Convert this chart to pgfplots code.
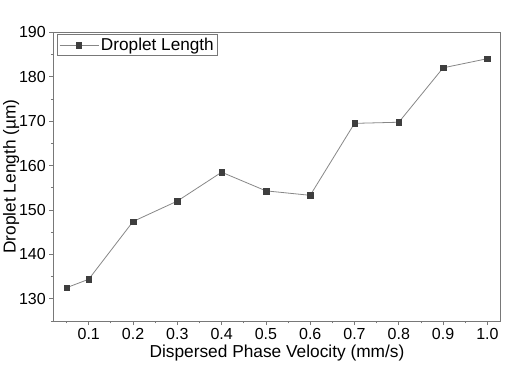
\documentclass[border=0pt]{standalone}
\usepackage{pgfplots}
\pgfplotsset{compat=1.18}
\usepackage{fontspec}
\setmainfont{Liberation Sans}
\definecolor{axgray}{RGB}{120,120,120}
\definecolor{lngray}{RGB}{135,135,135}
\definecolor{mkgray}{RGB}{62,62,62}
\begin{document}
\begin{tikzpicture}
\useasboundingbox (-53.3bp,-45bp) rectangle (462.7bp,321bp);
\begin{axis}[
  at={(0,0)}, anchor=south west,
  scale only axis, width=447.4bp, height=288.7bp,
  xmin=0.02, xmax=1.03, ymin=125, ymax=190,
  xtick={0.1,0.2,0.3,0.4,0.5,0.6,0.7,0.8,0.9,1.0},
  minor xtick={0.05,0.15,0.25,0.35,0.45,0.55,0.65,0.75,0.85,0.95},
  ytick={130,140,150,160,170,180,190},
  minor ytick={125,135,145,155,165,175,185},
  xtick pos=bottom, ytick pos=left,
  tick align=outside,
  major tick length=4bp, minor tick length=2.5bp,
  every tick/.style={axgray, line width=0.8pt},
  axis line style={axgray, line width=0.9pt},
  /pgf/number format/assume math mode=true,
  xticklabel style={/pgf/number format/.cd, fixed, fixed zerofill, precision=1},
  yticklabel style={/pgf/number format/.cd, fixed, precision=0},
  ticklabel style={font=\fontsize{16bp}{19bp}\selectfont},
  xlabel={Dispersed Phase Velocity (mm/s)},
  ylabel={Droplet Length (µm)},
  label style={font=\fontsize{17.3bp}{20bp}\selectfont},
  xlabel style={yshift=2bp},
  ylabel style={yshift=-7bp},
  legend style={at={(rel axis cs:0,1)}, anchor=north west, xshift=4bp, yshift=-2bp,
    draw=axgray, line width=0.8pt, font=\fontsize{17.2bp}{20bp}\selectfont,
    inner sep=1.5bp, row sep=0pt},
  legend cell align=left,
  legend image code/.code={
    \draw[lngray, line width=0.8pt] (0bp,0bp) -- (39bp,0bp);
    \fill[mkgray] (16.7bp,-2.8bp) rectangle (22.3bp,2.8bp);
  },
]
\addplot[lngray, line width=0.8pt, mark=square*, mark size=2.8bp,
  mark options={fill=mkgray, draw=mkgray, line width=0.3pt}]
  coordinates {
  (0.05,132.5) (0.1,134.4) (0.2,147.4) (0.3,152.0) (0.4,158.5)
  (0.5,154.3) (0.6,153.3) (0.7,169.5) (0.8,169.75) (0.9,182.0) (1.0,184.06)
  };
\addlegendentry{Droplet Length}
\end{axis}
\end{tikzpicture}
\end{document}
